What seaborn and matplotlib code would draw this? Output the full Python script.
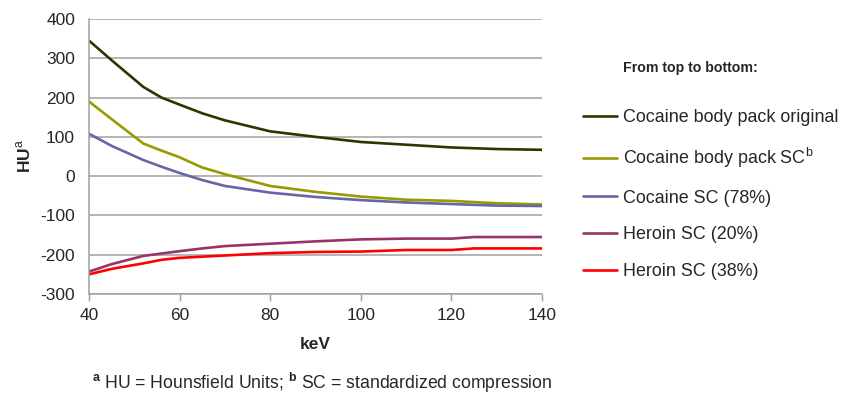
import matplotlib
matplotlib.use("Agg")
import matplotlib.pyplot as plt
import seaborn as sns
import pandas as pd
import numpy as np

kev = [40, 45, 52, 56, 60, 65, 70, 80, 90, 100, 110, 120, 125, 130, 140]
cocaine_pack_original = [345, 295, 227, 200, 182, 160, 142, 114, 100, 87, 80, 73, 71, 69, 67]
cocaine_pack_sc = [190, 145, 83, 65, 48, 22, 5, -25, -40, -52, -60, -63, -66, -69, -72]
cocaine_sc_78 = [108, 77, 41, 24, 8, -10, -25, -42, -53, -61, -67, -71, -73, -75, -76]
heroin_sc_20 = [-243, -224, -203, -197, -191, -184, -178, -172, -166, -161, -159, -159, -155, -155, -155]
heroin_sc_38 = [-250, -236, -222, -213, -208, -205, -202, -196, -193, -192, -188, -188, -184, -184, -184]

series_names = ["Cocaine body pack original", "Cocaine body pack SC$^{\\mathrm{b}}$",
                "Cocaine SC (78%)", "Heroin SC (20%)", "Heroin SC (38%)"]
series_values = [cocaine_pack_original, cocaine_pack_sc, cocaine_sc_78, heroin_sc_20, heroin_sc_38]
colors = ["#333300", "#999900", "#6666a8", "#993366", "#ff0000"]

rows = []
for name, vals in zip(series_names, series_values):
    for k, v in zip(kev, vals):
        rows.append({"keV": k, "HU": v, "series": name})
df = pd.DataFrame(rows)

sns.set_theme(style="white")
plt.rcParams["font.family"] = ["Liberation Sans", "DejaVu Sans"]
plt.rcParams["mathtext.fontset"] = "custom"
plt.rcParams["mathtext.rm"] = "Liberation Sans"
plt.rcParams["mathtext.bf"] = "Liberation Sans:bold"
plt.rcParams["axes.unicode_minus"] = False

fig = plt.figure(figsize=(8.41, 3.95), dpi=100)
ax = fig.add_axes([89/841, 1-294/395, (542-89)/841, (294-19)/395])

sns.lineplot(data=df, x="keV", y="HU", hue="series", hue_order=series_names,
             palette=colors, linewidth=1.9, ax=ax, legend=False)

ax.set_xlim(40, 140)
ax.set_ylim(-300, 400)
ax.set_xticks(range(40, 141, 20))
ax.set_yticks(range(-300, 401, 100))
ax.yaxis.grid(True, color="#a0a0a0", linewidth=1.1)
ax.xaxis.grid(False)
ax.set_axisbelow(True)
for s in ["top", "right"]:
    ax.spines[s].set_visible(False)
for s in ["left", "bottom"]:
    ax.spines[s].set_color("#a0a0a0")
    ax.spines[s].set_linewidth(1.1)
ax.tick_params(axis="x", direction="out", length=5, width=1, color="#a0a0a0",
               labelsize=12.5, pad=5, bottom=True)
ax.tick_params(axis="y", length=0, labelsize=12.5, pad=10)

ax.set_xlabel("keV", fontsize=12.5, fontweight="bold", labelpad=10)
ax.set_ylabel("HU$^{\\mathrm{a}}$", fontsize=12.5, fontweight="bold", labelpad=5)

handles = [plt.Line2D([], [], color=c, linewidth=1.9) for c in colors]
leg = fig.legend(handles, series_names, loc="upper left",
                 bbox_to_anchor=(576/841, 1-102/395), frameon=False,
                 fontsize=12.9, handlelength=1.9, handletextpad=0.33,
                 labelspacing=1.1, borderaxespad=0)
fig.text(623/841, 1-68/395, "From top to bottom:", fontsize=10.2,
         fontweight="bold", va="center", ha="left")

fig.text(322/841, 1-383/395,
         "$^{\\mathbf{a}}$ HU = Hounsfield Units; $^{\\mathbf{b}}$ SC = standardized compression",
         fontsize=12.7, ha="center", va="center")

fig.savefig("out.png", dpi=100)
